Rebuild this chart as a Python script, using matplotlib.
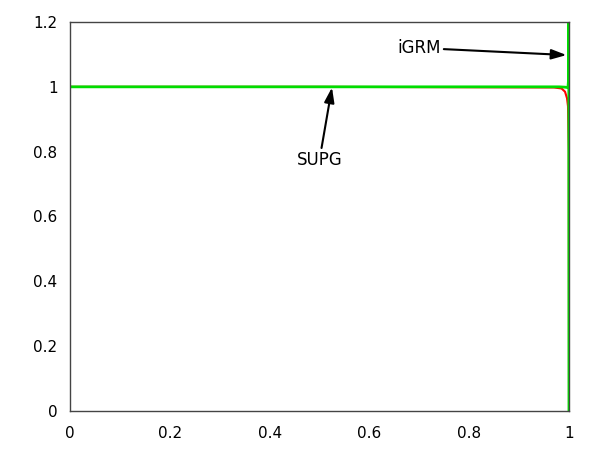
import matplotlib.pyplot as plt
from matplotlib.ticker import FormatStrFormatter

# dados (camada limite em x = 1)
x_supg = [0.0, 0.5, 0.97, 0.985, 0.992, 0.996, 0.998, 0.9995, 1.0]
y_supg = [1.0, 1.0, 0.998, 0.995, 0.985, 0.965, 0.94, 0.8, 0.0]

x_igrm = [0.0, 0.5, 0.98, 0.992, 0.996, 0.998, 0.999, 0.9995, 1.0]
y_igrm = [1.0, 1.0, 1.0, 0.999, 0.998, 1.0, 1.02, 1.4, 0.0]

xticks = [0, 0.2, 0.4, 0.6, 0.8, 1]
yticks = [0, 0.2, 0.4, 0.6, 0.8, 1, 1.2]

fig = plt.figure(figsize=(6, 4.5), dpi=100)
ax = fig.add_axes([70 / 600, 39 / 450, 499 / 600, 389 / 450])

ax.plot(x_supg, y_supg, color="red", lw=1.5)
ax.plot(x_igrm, y_igrm, color="#00dd00", lw=2)

ax.set_xlim(0, 1)
ax.set_ylim(0, 1.2)
ax.set_xticks(xticks)
ax.set_yticks(yticks)
ax.xaxis.set_major_formatter(FormatStrFormatter("%g"))
ax.yaxis.set_major_formatter(FormatStrFormatter("%g"))
ax.tick_params(length=0, labelsize=11)
ax.tick_params(axis="x", pad=11)
ax.tick_params(axis="y", pad=9)
for s in ax.spines.values():
    s.set_color("#444444")
    s.set_linewidth(1)

arrow = dict(arrowstyle="-|>,head_length=0.6,head_width=0.2", color="black",
             lw=1.5, mutation_scale=15, shrinkA=0, shrinkB=0)
ax.annotate("SUPG", xy=(0.525, 0.998), xytext=(0.5, 0.775),
            ha="center", va="center", fontsize=12, arrowprops=arrow)
ax.annotate("iGRM", xy=(0.995, 1.098), xytext=(0.7, 1.12),
            ha="center", va="center", fontsize=12, arrowprops=arrow)

fig.savefig("out.png")
